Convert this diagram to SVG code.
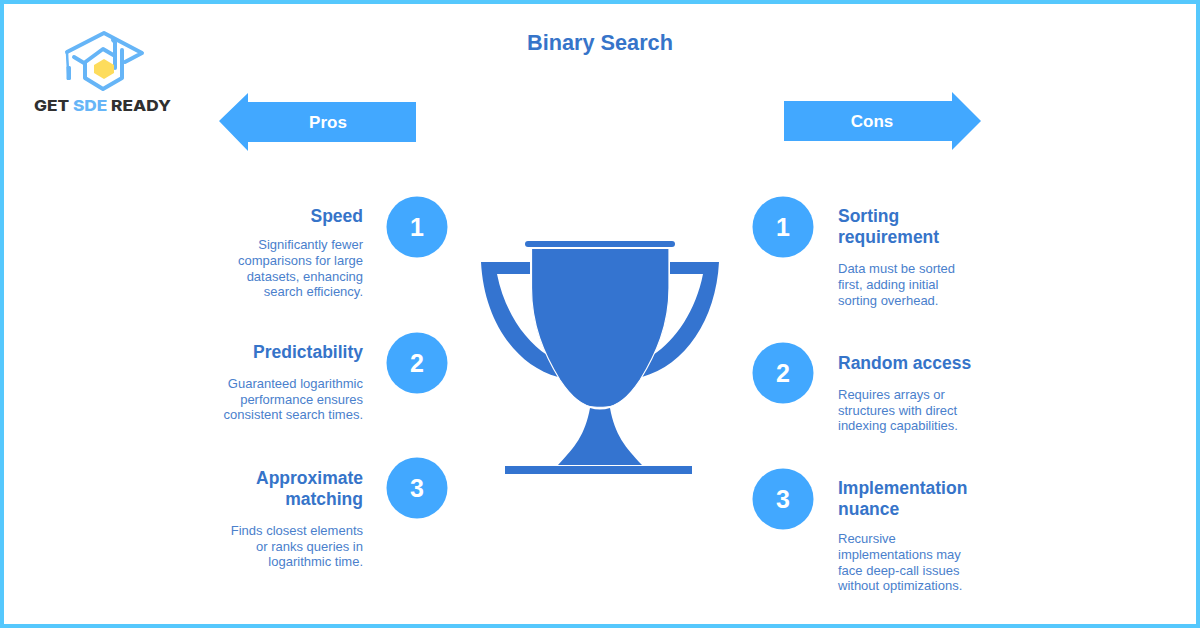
<svg xmlns="http://www.w3.org/2000/svg" width="1200" height="628" viewBox="0 0 1200 628">
<style>
text{font-family:"Liberation Sans",Arial,sans-serif}
.h{font-size:17.500px;font-weight:700;fill:#3674c9}
.b{font-size:13px;fill:#4a80cc}
.n{font-size:25px;font-weight:700;fill:#fff;text-anchor:middle}
.c{fill:#42a8ff}
.e{text-anchor:end}
.a{font-size:17px;font-weight:700;fill:#fff;text-anchor:middle}
.t{fill:#3474d0}
</style>
<rect width="1200" height="628" fill="#fff"/>
<rect x="2" y="2" width="1196" height="624" fill="none" stroke="#55c8fd" stroke-width="4"/>
<g id="logo">
<g fill="none" stroke="#66b5f7" stroke-width="4" stroke-linejoin="round" stroke-linecap="round">
<path d="M67 52L104 33L142 53L125 62"/>
<path d="M74 57L84 63M84 63L103 49L115 56M113 40L115 42V68M122 50V78L103 89L85 78V63"/>
</g>
<path d="M67 53L68.500 80" fill="none" stroke="#66b5f7" stroke-width="2.500"/>
<rect x="66.500" y="66" width="4.500" height="14" rx="1.500" fill="#66b5f7"/>
<polygon points="104,59 114,65 114,73 104,79 94,73 94,65" fill="#fddc5c"/>
<text x="102.500" y="111" text-anchor="middle" font-size="15" font-weight="800" fill="#303030" style="font-family:Inter,'Liberation Sans',sans-serif" textLength="137" lengthAdjust="spacingAndGlyphs">GET <tspan fill="#66b5f7">SDE</tspan> READY</text>
</g>
<text id="title" x="600" y="50" text-anchor="middle" font-size="21.700" font-weight="700" fill="#3674c9">Binary Search</text>
<g id="pros-arrow"><polygon class="c" points="219,121 248,93 248,102 416,102 416,142 248,142 248,151"/><text class="a" x="328" y="128">Pros</text></g>
<g id="cons-arrow"><polygon class="c" points="981,121 952,92 952,101 784,101 784,141 952,141 952,150"/><text class="a" x="872" y="127">Cons</text></g>
<g id="trophy">
<rect class="t" x="525" y="241" width="150" height="6" rx="3"/>
<path class="t" d="M481 262H530V274H497C504 310 524 340 547 355L558 377C515 365 484 320 481 262Z"/>
<path class="t" d="M719 262H670V274H703C696 310 676 340 653 355L642 377C685 365 716 320 719 262Z"/>
<path class="t" stroke="#fff" stroke-width="1.200" d="M531.500 248.500H669V288C669 325 656 354 640 380C628 398 616 406.500 606 407Q600 407.500 594 407C584 406.500 572 398 560 380C544 354 531.500 325 531.500 288Z"/>
<path class="t" d="M590 408Q600 411 610 408C615 435 625 447 642 465H558C575 447 585 435 590 408Z"/>
<rect class="t" x="505" y="466" width="187" height="8"/>
</g>
<g id="pro-1"><circle class="c" cx="417" cy="227" r="30.500"/><text class="n" x="417" y="236">1</text>
<text class="h e" x="363" y="222">Speed</text>
<text class="b e" x="363" y="249">Significantly fewer</text><text class="b e" x="363" y="265">comparisons for large</text><text class="b e" x="363" y="281">datasets, enhancing</text><text class="b e" x="363" y="296">search efficiency.</text></g>
<g id="pro-2"><circle class="c" cx="417" cy="363" r="30.500"/><text class="n" x="417" y="372">2</text>
<text class="h e" x="363" y="358">Predictability</text>
<text class="b e" x="363" y="388">Guaranteed logarithmic</text><text class="b e" x="363" y="404">performance ensures</text><text class="b e" x="363" y="419">consistent search times.</text></g>
<g id="pro-3"><circle class="c" cx="417" cy="488" r="30.500"/><text class="n" x="417" y="497">3</text>
<text class="h e" x="363" y="484">Approximate</text><text class="h e" x="363" y="505">matching</text>
<text class="b e" x="363" y="535">Finds closest elements</text><text class="b e" x="363" y="551">or ranks queries in</text><text class="b e" x="363" y="566">logarithmic time.</text></g>
<g id="con-1"><circle class="c" cx="783" cy="227" r="30.500"/><text class="n" x="783" y="236">1</text>
<text class="h" x="838" y="222">Sorting</text><text class="h" x="838" y="243">requirement</text>
<text class="b" x="838" y="273">Data must be sorted</text><text class="b" x="838" y="289">first, adding initial</text><text class="b" x="838" y="305">sorting overhead.</text></g>
<g id="con-2"><circle class="c" cx="783" cy="373" r="30.500"/><text class="n" x="783" y="382">2</text>
<text class="h" x="838" y="369">Random access</text>
<text class="b" x="838" y="399">Requires arrays or</text><text class="b" x="838" y="415">structures with direct</text><text class="b" x="838" y="430">indexing capabilities.</text></g>
<g id="con-3"><circle class="c" cx="783" cy="499" r="30.500"/><text class="n" x="783" y="508">3</text>
<text class="h" x="838" y="494">Implementation</text><text class="h" x="838" y="515">nuance</text>
<text class="b" x="838" y="543">Recursive</text><text class="b" x="838" y="559">implementations may</text><text class="b" x="838" y="575">face deep-call issues</text><text class="b" x="838" y="590">without optimizations.</text></g>
<g id="connectors"/>
</svg>
